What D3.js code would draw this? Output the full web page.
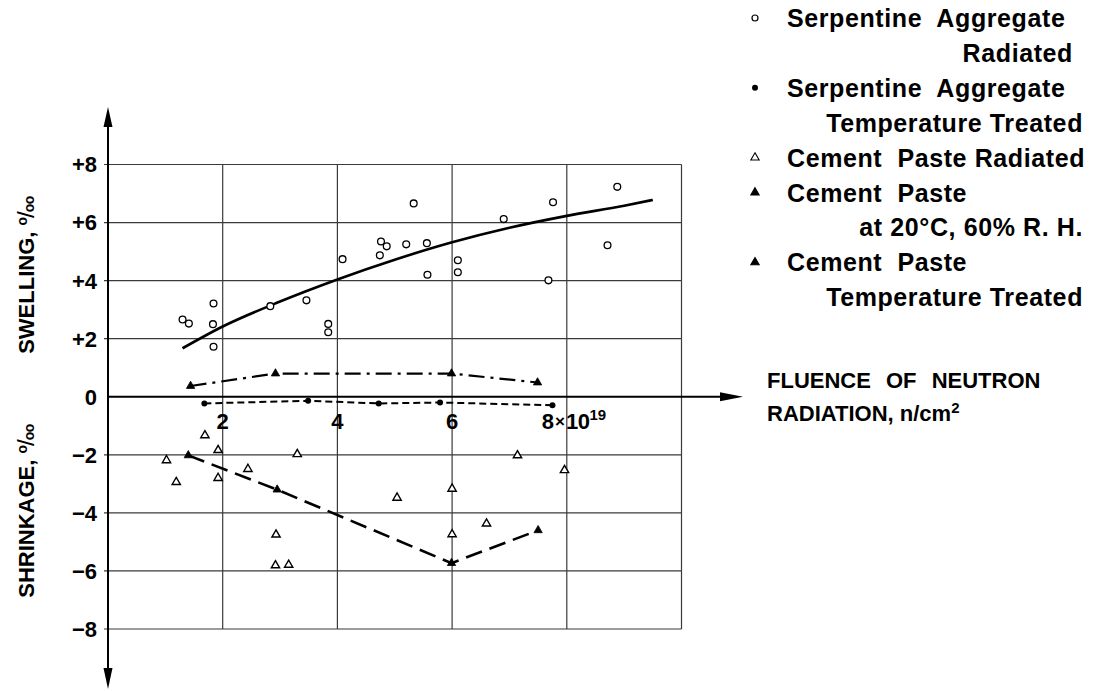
<!DOCTYPE html>
<html>
<head>
<meta charset="utf-8">
<script src="https://cdn.jsdelivr.net/npm/d3@7"></script>
<style>
  html, body { margin: 0; padding: 0; background: #fff; }
  svg { display: block; font-family: "Liberation Sans", Arial, Helvetica, sans-serif; }
</style>
</head>
<body>
<div id="chart"></div>
<script>
// Fluence in 10^19 n/cm², strain in per mille
const xTicks = [2, 4, 6, 8];
const yTicks = [8, 6, 4, 2, 0, -2, -4, -6, -8];
const yTickLabels = ["+8", "+6", "+4", "+2", "0", "\u22122", "\u22124", "\u22126", "\u22128"];

// Serpentine aggregate, radiated (open circles)
const serpRadiated = [
  [1.30, 2.66], [1.41, 2.52], [1.84, 3.21], [1.83, 2.50], [1.84, 1.72],
  [2.83, 3.12], [3.46, 3.32], [3.84, 2.51], [3.84, 2.22], [4.09, 4.74],
  [4.74, 4.87], [4.76, 5.35], [4.86, 5.18], [5.20, 5.25], [5.33, 6.66],
  [5.56, 5.29], [5.57, 4.20], [6.10, 4.70], [6.10, 4.29], [6.90, 6.12],
  [7.76, 6.70], [7.68, 4.01], [8.88, 7.23], [8.71, 5.22]
];
// fitted swelling curve
const serpCurve = [
  [1.3, 1.67], [2, 2.42], [3, 3.28], [4, 4.04], [5, 4.72],
  [6, 5.32], [7, 5.82], [8, 6.23], [9, 6.58], [9.5, 6.78]
];
// Serpentine aggregate, temperature treated (filled dots)
const serpTemp = [[1.68, -0.23], [3.49, -0.14], [4.72, -0.23], [5.79, -0.20], [7.75, -0.29]];

// Cement paste, radiated (open triangles)
const cementRadiated = [
  [1.69, -1.33], [1.02, -2.19], [1.19, -2.94], [1.92, -1.84], [1.92, -2.80],
  [2.44, -2.49], [3.30, -1.98], [2.93, -4.75], [2.92, -5.81], [3.15, -5.79],
  [5.04, -3.48], [6.00, -3.17], [6.00, -4.74], [6.60, -4.37], [7.14, -2.02],
  [7.96, -2.53]
];
// Cement paste at 20°C, 60% R.H. (filled triangles, long dashes)
const cementRH = [[1.40, -2.02], [2.95, -3.20], [5.99, -5.73], [7.50, -4.60]];
// Cement paste, temperature treated (filled triangles, dash-dot)
const cementTemp = [[1.44, 0.37], [2.92, 0.80], [5.99, 0.80], [7.49, 0.49]];

const legendItems = [
  { sym: "circle", lines: ["Serpentine  Aggregate", "Radiated"] },
  { sym: "dot", lines: ["Serpentine  Aggregate", "Temperature Treated"] },
  { sym: "tri-open", lines: ["Cement  Paste Radiated"] },
  { sym: "tri-small", lines: ["Cement  Paste", "at 20\u00b0C, 60% R. H."] },
  { sym: "tri", lines: ["Cement  Paste", "Temperature Treated"] }
];

const width = 1099, height = 691;
const svg = d3.select("#chart").append("svg")
  .attr("width", width).attr("height", height);

const x = d3.scaleLinear().domain([0, 10]).range([108, 681.5]);
const y = d3.scaleLinear().domain([-8, 8]).range([629, 164.5]);

// grid
const grid = svg.append("g").attr("stroke", "#3a3a3a").attr("stroke-width", 1.2);
grid.selectAll("line.h")
  .data(yTicks.filter(d => d !== 0))
  .join("line")
  .attr("x1", x(0) - 4).attr("x2", x(10))
  .attr("y1", d => y(d)).attr("y2", d => y(d));
grid.selectAll("line.v")
  .data([2, 4, 6, 8, 10])
  .join("line")
  .attr("class", "v")
  .attr("x1", d => x(d)).attr("x2", d => x(d))
  .attr("y1", y(8)).attr("y2", y(-8));

// axes with arrows
const axis = svg.append("g").attr("stroke", "#000").attr("stroke-width", 2);
axis.append("line").attr("x1", x(0)).attr("x2", x(0)).attr("y1", 118).attr("y2", 680);
axis.append("line").attr("x1", x(0)).attr("x2", 730).attr("y1", y(0)).attr("y2", y(0));
svg.append("path").attr("d", `M${x(0)},107 L${x(0) - 4.5},127 L${x(0) + 4.5},127 Z`).attr("fill", "#000");
svg.append("path").attr("d", `M${x(0)},689 L${x(0) - 4.5},668 L${x(0) + 4.5},668 Z`).attr("fill", "#000");
svg.append("path").attr("d", `M743,${y(0)} L720,${y(0) - 4.5} L720,${y(0) + 4.5} Z`).attr("fill", "#000");

// tick labels
svg.append("g")
  .selectAll("text")
  .data(yTicks)
  .join("text")
  .attr("x", x(0) - 11)
  .attr("y", d => y(d))
  .attr("dy", "0.36em")
  .attr("text-anchor", "end")
  .attr("font-size", 22).attr("font-weight", "bold")
  .text((d, i) => yTickLabels[i]);

svg.append("g")
  .selectAll("text")
  .data(xTicks.slice(0, 3))
  .join("text")
  .attr("x", d => x(d))
  .attr("y", y(0) + 32)
  .attr("text-anchor", "middle")
  .attr("font-size", 22).attr("font-weight", "bold")
  .text(d => d);

const t8 = svg.append("text")
  .attr("x", x(8) - 25).attr("y", y(0) + 32)
  .attr("font-size", 22).attr("font-weight", "bold");
t8.append("tspan").text("8");
t8.append("tspan").attr("font-size", 17).attr("dx", 1).attr("dy", -2).text("\u00d7");
t8.append("tspan").attr("dx", 1).attr("dy", 2).attr("letter-spacing", -0.5).text("10");
t8.append("tspan").attr("font-size", 15).attr("dy", -9).text("19");

// axis titles, with a drawn per-mille sign
function yTitle(label, cy) {
  const t = svg.append("text")
    .attr("transform", `translate(34,${cy}) rotate(-90)`)
    .attr("text-anchor", "middle")
    .attr("font-size", 22).attr("font-weight", "bold");
  t.append("tspan").text(label + " ");
  t.append("tspan").attr("font-size", 14).attr("dy", -7).text("o");
  t.append("tspan").attr("font-size", 24).attr("font-weight", "normal").attr("dy", 7).attr("dx", -1).text("/");
  t.append("tspan").attr("font-size", 14).attr("dx", -1).attr("letter-spacing", -0.5).text("oo");
}
yTitle("SWELLING,", 275);
yTitle("SHRINKAGE,", 511);

const xTitle = svg.append("g").attr("font-size", 22).attr("font-weight", "bold");
xTitle.append("text").attr("x", 767).attr("y", 388).attr("word-spacing", 9).text("FLUENCE OF NEUTRON");
const xt2 = xTitle.append("text").attr("x", 767).attr("y", 421);
xt2.append("tspan").text("RADIATION, n/cm");
xt2.append("tspan").attr("font-size", 15).attr("dy", -8).text("2");

// lines
const line = d3.line().x(d => x(d[0])).y(d => y(d[1]));
svg.append("path").datum(serpCurve)
  .attr("d", line.curve(d3.curveMonotoneX))
  .attr("fill", "none").attr("stroke", "#000").attr("stroke-width", 2.6);
line.curve(d3.curveLinear);
svg.append("path").datum(serpTemp)
  .attr("d", line)
  .attr("fill", "none").attr("stroke", "#000").attr("stroke-width", 2)
  .attr("stroke-dasharray", "7,4");
svg.append("path").datum(cementTemp)
  .attr("d", line)
  .attr("fill", "none").attr("stroke", "#000").attr("stroke-width", 2.2)
  .attr("stroke-dasharray", "16,6,3,6");
svg.append("path").datum(cementRH)
  .attr("d", line)
  .attr("fill", "none").attr("stroke", "#000").attr("stroke-width", 2.6)
  .attr("stroke-dasharray", "17,8");

// markers
const tri = d3.symbol().type(d3.symbolTriangle).size(30);
svg.append("g").selectAll("circle")
  .data(serpRadiated).join("circle")
  .attr("cx", d => x(d[0])).attr("cy", d => y(d[1])).attr("r", 3.4)
  .attr("fill", "#fff").attr("stroke", "#000").attr("stroke-width", 1.3);
svg.append("g").selectAll("circle")
  .data(serpTemp).join("circle")
  .attr("cx", d => x(d[0])).attr("cy", d => y(d[1])).attr("r", 3)
  .attr("fill", "#000");
svg.append("g").selectAll("path")
  .data(cementRadiated).join("path")
  .attr("d", tri)
  .attr("transform", d => `translate(${x(d[0])},${y(d[1])})`)
  .attr("fill", "#fff").attr("stroke", "#000").attr("stroke-width", 1.4);
svg.append("g").selectAll("path")
  .data(cementRH.concat(cementTemp)).join("path")
  .attr("d", tri)
  .attr("transform", d => `translate(${x(d[0])},${y(d[1])})`)
  .attr("fill", "#000").attr("stroke", "#000").attr("stroke-width", 0.8);

// legend
const legendX = 755, textX = 787, rightX = 1083;
let row = 0;
const legend = svg.append("g").attr("font-size", 25).attr("font-weight", "bold")
  .attr("letter-spacing", 0.6);
legendItems.forEach(item => {
  const cy = 18 + row * 34.9;
  const g = legend.append("g");
  if (item.sym === "circle") {
    g.append("circle").attr("cx", legendX).attr("cy", cy).attr("r", 3)
      .attr("fill", "#fff").attr("stroke", "#000").attr("stroke-width", 1.2);
  } else if (item.sym === "dot") {
    g.append("circle").attr("cx", legendX).attr("cy", cy).attr("r", 3).attr("fill", "#000");
  } else {
    g.append("path").attr("d", tri)
      .attr("transform", `translate(${legendX},${cy})`)
      .attr("fill", item.sym === "tri-open" ? "#fff" : "#000")
      .attr("stroke", "#000").attr("stroke-width", 1.1);
  }
  item.lines.forEach((txt, i) => {
    g.append("text")
      .attr("x", i === 0 ? textX : rightX - (txt === "Radiated" ? 10 : 0))
      .attr("y", cy + (i * 34.9))
      .attr("dy", "0.36em")
      .attr("text-anchor", i === 0 ? "start" : "end")
      .style("white-space", "pre")
      .text(txt);
  });
  row += item.lines.length;
});
</script>
</body>
</html>
